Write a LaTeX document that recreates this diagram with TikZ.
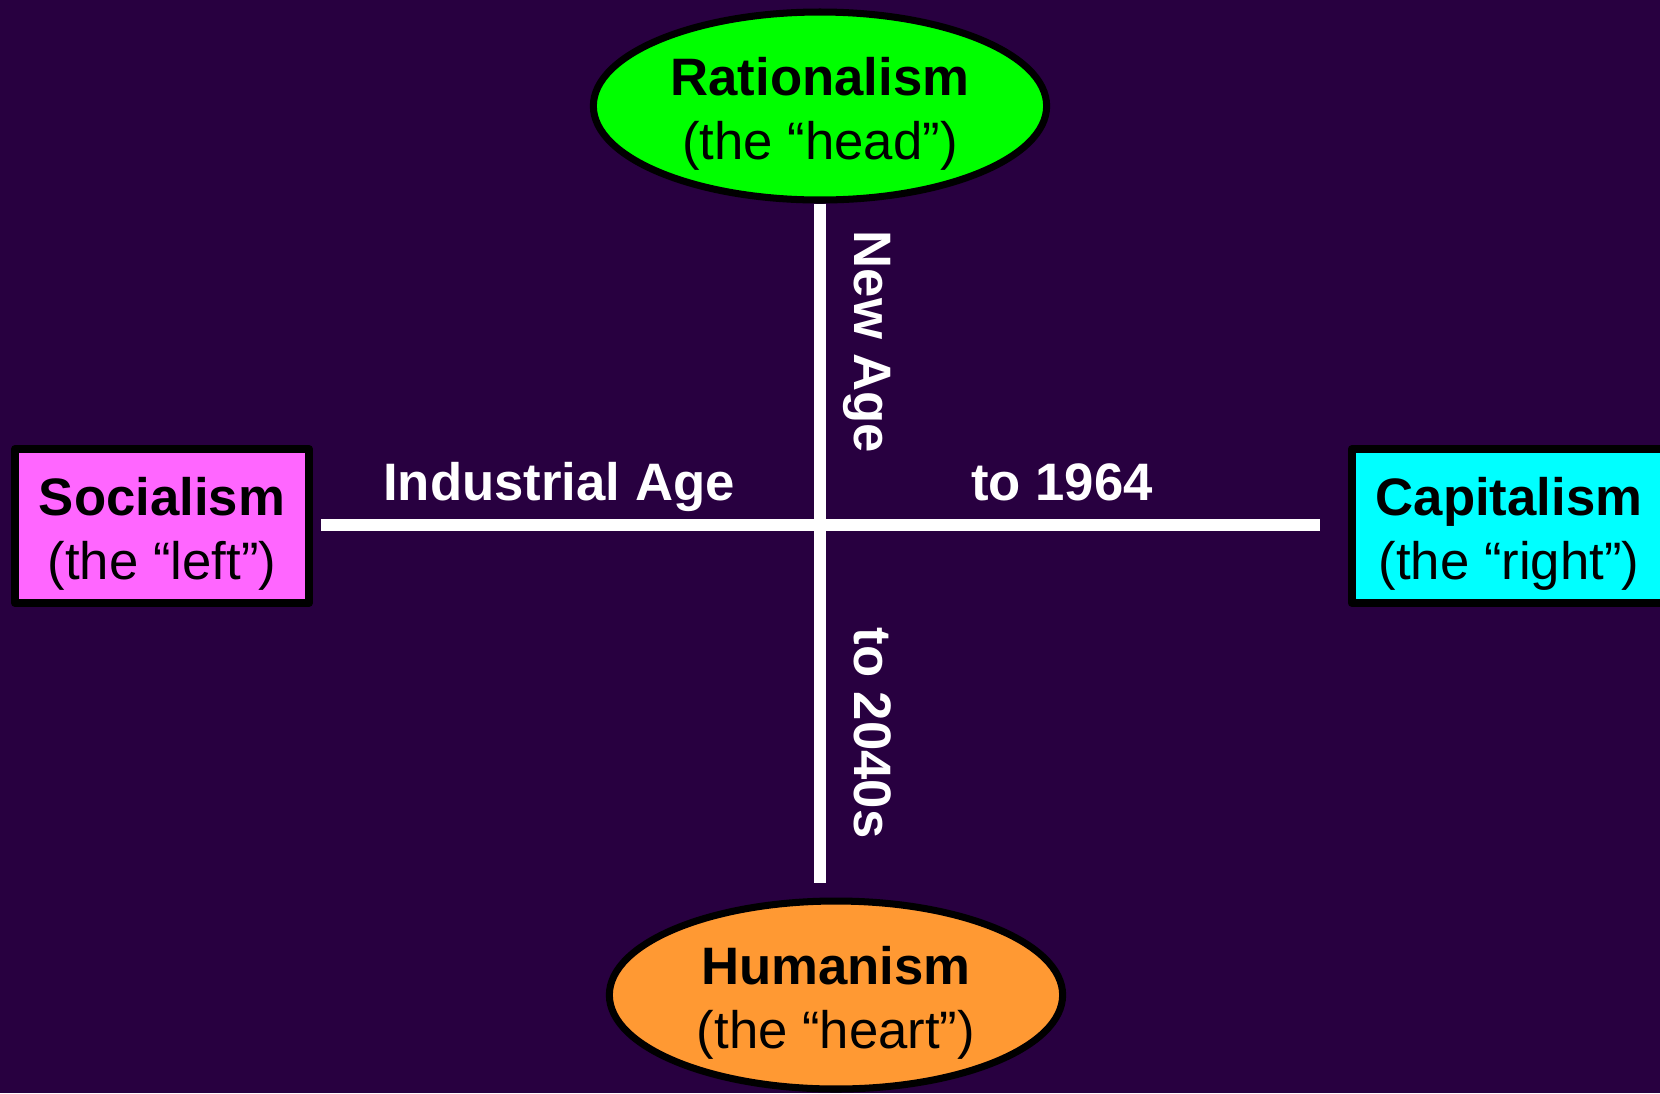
\documentclass[tikz,border=0pt]{standalone}
\usepackage{fontspec}
\setmainfont{Liberation Sans}
\usetikzlibrary{shapes.geometric}
\definecolor{bgpurple}{RGB}{40,0,64}
\definecolor{headgreen}{RGB}{0,255,0}
\definecolor{leftpink}{RGB}{255,102,255}
\definecolor{rightcyan}{RGB}{0,255,255}
\definecolor{heartorange}{RGB}{255,153,51}
% pushes the first line down a little inside its frame
\newcommand{\liftstrut}{\rule{0pt}{31pt}}

\begin{document}
\begin{tikzpicture}[x=0.02cm, y=-0.02cm, line join=round,
		pole/.style={ellipse, draw=black, line width=4pt, inner sep=0pt, minimum width=258pt, minimum height=107pt, align=center, font=\fontsize{30}{36.5}\selectfont},
		side/.style={rectangle, draw=black, line width=4.5pt, inner xsep=13.7pt, inner ysep=0pt, minimum height=87.6pt, align=center, font=\fontsize{30}{36.5}\selectfont},
		axis/.style={white, line width=6.8pt},
		era/.style={white, font=\fontsize{30}{36}\selectfont\bfseries, anchor=base}]
	\fill[bgpurple] (0,0) rectangle (1660,1093);
	\useasboundingbox (0,0) rectangle (1660,1093);
	% the four poles
	\node[pole, fill=headgreen] (rat) at (820,106) {\liftstrut\textbf{Rationalism}\\(the “head”)};
	\node[pole, fill=heartorange] (hum) at (836,995) {\liftstrut\textbf{Humanism}\\(the “heart”)};
	\node[side, fill=leftpink] (soc) at (162,526) {\liftstrut\textbf{Socialism}\\(the “left”)};
	\node[side, fill=rightcyan] (cap) at (1509,526) {\liftstrut\textbf{Capitalism}\\(the “right”)};
	% the cross
	\draw[axis, shorten >=8.3pt] (rat.south) -- (rat.south |- hum.north);
	\draw[axis, shorten <=4.6pt, shorten >=16pt, transform canvas={yshift=0.6pt}] (soc.east) -- (soc.east -| cap.west);
	% ages along the arms
	\node[era] (ind) at (559,500) {Industrial Age};
	\node[era] (y64) at (1062,500) {to 1964};
	\node[era, rotate=-90] (new) at (854,342) {New Age};
	\node[era, rotate=-90] (y40) at (854,733) {to 2040s};
\end{tikzpicture}
\end{document}
